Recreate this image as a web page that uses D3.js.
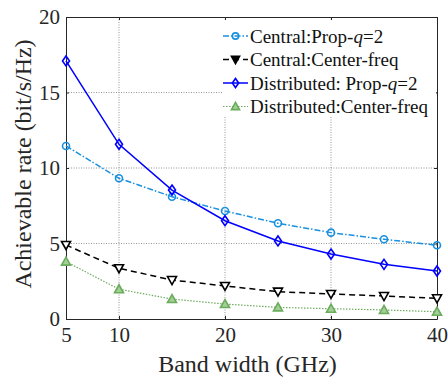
<!DOCTYPE html>
<html>
<head>
<meta charset="utf-8">
<script src="https://cdn.jsdelivr.net/npm/d3@7"></script>
<style>
  body { margin: 0; background: #fff; }
  svg { display: block; font-family: "Liberation Serif", "Times New Roman", serif; }
</style>
</head>
<body>
<svg width="448" height="378"></svg>
<script>
var bandwidth = [5, 10, 15, 20, 25, 30, 35, 40];
var centralProp = [11.46, 9.32, 8.1, 7.15, 6.34, 5.72, 5.28, 4.88];
var centralCenter = [4.9, 3.36, 2.58, 2.19, 1.81, 1.66, 1.52, 1.37];
var distProp = [17.09, 11.57, 8.54, 6.51, 5.17, 4.3, 3.62, 3.18];
var distCenter = [3.8, 1.97, 1.32, 0.99, 0.77, 0.68, 0.6, 0.48];
var xTicks = [5, 10, 20, 30, 40];
var yTicks = [0, 5, 10, 15, 20];

var svg = d3.select('svg');
var pLeft = 66, pRight = 437, pTop = 17, pBottom = 319;

var x = d3.scaleLinear().domain([5, 40]).range([pLeft, pRight]);
var y = d3.scaleLinear().domain([0, 20]).range([pBottom, pTop]);

var series = [
  { name: 'Central:Prop-', italic: 'q', tail: '=2', values: centralProp,
    color: '#1890e0', dash: '6,2,1.5,2', marker: 'circle', fill: 'none', width: 1.5 },
  { name: 'Central:Center-freq', values: centralCenter,
    color: '#000', dash: '6,4', marker: 'down', fill: '#fff', width: 1.5 },
  { name: 'Distributed: Prop-', italic: 'q', tail: '=2', values: distProp,
    color: '#0000ff', dash: null, marker: 'diamond', fill: 'none', width: 1.5 },
  { name: 'Distributed:Center-freq', values: distCenter,
    color: '#6aab5c', dash: '1.5,1.5', marker: 'up', fill: '#a3cf96', width: 1.2 }
];

// grid
var grid = svg.append('g').attr('stroke', '#8a8a8a').attr('stroke-width', 0.9)
  .attr('stroke-dasharray', '1,1.5');
[10, 20, 30].forEach(function(v) {
  grid.append('line').attr('x1', x(v)).attr('x2', x(v)).attr('y1', pTop).attr('y2', pBottom);
});
[5, 10, 15].forEach(function(v) {
  grid.append('line').attr('x1', pLeft).attr('x2', pRight).attr('y1', y(v)).attr('y2', y(v));
});

// axes
var xAxis = svg.append('g').attr('transform', 'translate(0,' + pBottom + ')')
  .call(d3.axisBottom(x).tickValues(xTicks).tickSizeInner(-3).tickSizeOuter(0).tickPadding(8));
var yAxis = svg.append('g').attr('transform', 'translate(' + pLeft + ',0)')
  .call(d3.axisLeft(y).tickValues(yTicks).tickSizeInner(-3).tickSizeOuter(0).tickPadding(6));
var xTop = svg.append('g').attr('transform', 'translate(0,' + pTop + ')')
  .call(d3.axisTop(x).tickValues(xTicks).tickSizeInner(-3).tickSizeOuter(0).tickFormat(''));
var yRight = svg.append('g').attr('transform', 'translate(' + pRight + ',0)')
  .call(d3.axisRight(y).tickValues(yTicks).tickSizeInner(-3).tickSizeOuter(0).tickFormat(''));
[xAxis, yAxis, xTop, yRight].forEach(function(a) {
  a.selectAll('path, line').attr('stroke', '#262626').attr('stroke-width', 1);
  a.selectAll('text').attr('fill', '#262626').style('font-size', '21px')
    .style('font-family', '"Liberation Serif", serif');
});

var line = d3.line().x(function(d, i) { return x(bandwidth[i]); }).y(function(d) { return y(d); });

function drawMarker(g, type, cx, cy, s) {
  var p;
  if (type === 'circle') {
    p = g.append('circle').attr('cx', cx).attr('cy', cy).attr('r', 3.5 * s);
  } else if (type === 'diamond') {
    p = g.append('path').attr('d', 'M' + cx + ',' + (cy - 5 * s) + 'L' + (cx + 3.5 * s) + ',' + cy +
      'L' + cx + ',' + (cy + 5 * s) + 'L' + (cx - 3.5 * s) + ',' + cy + 'Z');
  } else if (type === 'down') {
    p = g.append('path').attr('d', 'M' + (cx - 4.5 * s) + ',' + (cy - 3.5 * s) + 'L' + (cx + 4.5 * s) + ',' +
      (cy - 3.5 * s) + 'L' + cx + ',' + (cy + 4.5 * s) + 'Z');
  } else {
    p = g.append('path').attr('d', 'M' + (cx - 4.5 * s) + ',' + (cy + 3.5 * s) + 'L' + (cx + 4.5 * s) + ',' +
      (cy + 3.5 * s) + 'L' + cx + ',' + (cy - 4.5 * s) + 'Z');
  }
  return p;
}

series.forEach(function(s) {
  var g = svg.append('g');
  g.append('path').datum(s.values).attr('d', line).attr('fill', 'none')
    .attr('stroke', s.color).attr('stroke-width', s.width)
    .attr('stroke-dasharray', s.dash);
  s.values.forEach(function(v, i) {
    drawMarker(g, s.marker, x(bandwidth[i]), y(v), 1)
      .attr('fill', s.fill).attr('stroke', s.color).attr('stroke-width', 1.6);
  });
});

// legend
var lg = svg.append('g');
lg.append('rect').attr('x', 222).attr('y', 20).attr('width', 214).attr('height', 97).attr('fill', '#fff');
series.forEach(function(s, i) {
  var ly = 36 + i * 23.5;
  lg.append('line').attr('x1', 223).attr('x2', 248).attr('y1', ly).attr('y2', ly)
    .attr('stroke', s.color).attr('stroke-width', s.width).attr('stroke-dasharray', s.dash);
  drawMarker(lg, s.marker, 235.5, ly, 0.9)
    .attr('fill', s.marker === 'down' ? '#000' : s.fill).attr('stroke', s.color).attr('stroke-width', 1.6);
  var t = lg.append('text').attr('x', 250).attr('y', ly + 6.5).attr('fill', '#111')
    .style('font-size', '19px');
  t.append('tspan').text(s.name);
  if (s.italic) {
    t.append('tspan').style('font-style', 'italic').text(s.italic);
    t.append('tspan').text(s.tail);
  }
});

// axis labels
svg.append('text').attr('x', (pLeft + pRight) / 2 - 4).attr('y', 372).attr('text-anchor', 'middle')
  .attr('fill', '#262626').style('font-size', '24px').text('Band width (GHz)');
svg.append('text').attr('transform', 'translate(31,' + ((pTop + pBottom) / 2 - 4) + ') rotate(-90)')
  .attr('text-anchor', 'middle').attr('fill', '#262626').style('font-size', '24px')
  .text('Achievable rate (bit/s/Hz)');
</script>
</body>
</html>
